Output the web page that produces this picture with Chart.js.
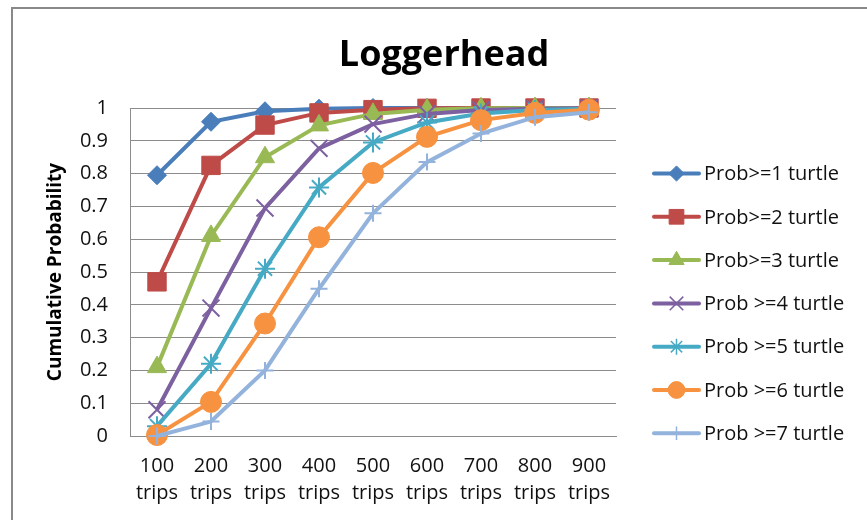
<!DOCTYPE html>
<html>
<head>
<meta charset="utf-8">
<title>Loggerhead</title>
<script src="https://cdn.jsdelivr.net/npm/chart.js@4/dist/chart.umd.min.js"></script>
<style>
  html, body { margin: 0; padding: 0; background: #ffffff; }
  #wrap { width: 867px; height: 520px; position: relative; }
</style>
</head>
<body>
<div id="wrap"><canvas id="chart"></canvas></div>
<script>
// Text
const chartTitle = 'Loggerhead';
const yAxisTitle = 'Cumulative Probability';
const unitLabel = 'trips';

// Categories (number of trips) and y tick labels
const categories = ['100', '200', '300', '400', '500', '600', '700', '800', '900'];
const yTickLabels = ['0', '0.1', '0.2', '0.3', '0.4', '0.5', '0.6', '0.7', '0.8', '0.9', '1'];

// Series names
const seriesNames = [
  'Prob>=1 turtle', 'Prob>=2 turtle', 'Prob>=3 turtle',
  'Prob >=4 turtle', 'Prob >=5 turtle', 'Prob >=6 turtle', 'Prob >=7 turtle'
];

// Cumulative probability per series
const prob1 = [0.795, 0.958, 0.990, 0.998, 1.000, 1.000, 1.000, 1.000, 1.000];
const prob2 = [0.470, 0.825, 0.948, 0.985, 0.995, 0.999, 1.000, 1.000, 1.000];
const prob3 = [0.210, 0.610, 0.850, 0.947, 0.982, 0.995, 0.999, 1.000, 1.000];
const prob4 = [0.080, 0.390, 0.695, 0.877, 0.951, 0.982, 0.994, 0.998, 1.000];
const prob5 = [0.030, 0.220, 0.510, 0.758, 0.895, 0.956, 0.983, 0.994, 0.998];
const prob6 = [0.003, 0.104, 0.343, 0.606, 0.802, 0.912, 0.963, 0.985, 0.995];
const prob7 = [0.000, 0.044, 0.200, 0.449, 0.679, 0.835, 0.922, 0.972, 0.987];

// Styling
const seriesColors = ['#4a7ebb', '#be4b48', '#98b954', '#7d60a0', '#46aac5', '#f69240', '#93b3dc'];
const markerStyles = ['rectRot', 'rect', 'triangle', 'crossRot', 'star', 'circle', 'cross'];
const markerRadii = [9.5, 13, 11, 12, 10, 10.5, 8.5];
const gridColor = '#8c8c8c';
const textColor = '#111111';
const fontFamily = '"Open Sans", "DejaVu Sans", sans-serif';

const seriesValues = [prob1, prob2, prob3, prob4, prob5, prob6, prob7];
const strokeOnly = s => s === 'crossRot' || s === 'star' || s === 'cross';

const datasets = seriesValues.map((values, i) => ({
  label: seriesNames[i],
  data: values,
  borderColor: seriesColors[i],
  backgroundColor: seriesColors[i],
  borderWidth: 4,
  pointStyle: markerStyles[i],
  pointRadius: markerRadii[i],
  pointHoverRadius: markerRadii[i],
  pointBackgroundColor: seriesColors[i],
  pointBorderColor: seriesColors[i],
  pointBorderWidth: strokeOnly(markerStyles[i]) ? 2 : 1,
  tension: 0,
  fill: false,
  clip: false,
  order: seriesValues.length - i
}));

// Background, outer frame, title and line+marker legend
const decorations = {
  id: 'decorations',
  beforeDraw(chart) {
    const ctx = chart.ctx;
    ctx.save();
    ctx.fillStyle = '#ffffff';
    ctx.fillRect(0, 0, chart.width, chart.height);
    ctx.strokeStyle = '#898989';
    ctx.lineWidth = 2;
    ctx.strokeRect(12, 8, chart.width + 20, chart.height + 20);
    ctx.restore();
  },
  afterDraw(chart) {
    const ctx = chart.ctx;
    ctx.save();
    ctx.fillStyle = '#000000';
    ctx.font = 'bold 36px ' + fontFamily;
    ctx.textAlign = 'center';
    ctx.textBaseline = 'alphabetic';
    ctx.fillText(chartTitle, 444, 66);

    const top = 173.5, step = 43.3;
    chart.data.datasets.forEach((ds, i) => {
      const y = top + i * step;
      ctx.strokeStyle = ds.borderColor;
      ctx.lineWidth = 4;
      ctx.lineCap = 'round';
      ctx.beginPath();
      ctx.moveTo(654, y);
      ctx.lineTo(699, y);
      ctx.stroke();
      ctx.lineCap = 'butt';
      ctx.fillStyle = ds.pointBackgroundColor;
      ctx.strokeStyle = ds.pointBorderColor;
      ctx.lineWidth = strokeOnly(ds.pointStyle) ? 1.5 : 1;
      Chart.helpers.drawPoint(ctx, {
        pointStyle: ds.pointStyle,
        rotation: 0,
        radius: ds.pointRadius * 0.8,
        borderWidth: ctx.lineWidth
      }, 676.5, y);
      ctx.fillStyle = textColor;
      ctx.font = '20px ' + fontFamily;
      ctx.textAlign = 'left';
      ctx.textBaseline = 'middle';
      ctx.fillText(ds.label, 704, y + 1);
    });
    ctx.restore();
  }
};

Chart.defaults.font.family = fontFamily;
Chart.defaults.color = textColor;

new Chart(document.getElementById('chart'), {
  type: 'line',
  data: {
    labels: categories.map(c => [c, unitLabel]),
    datasets: datasets
  },
  options: {
    responsive: true,
    maintainAspectRatio: false,
    animation: false,
    layout: { padding: { top: 108, right: 251, bottom: 0, left: 0 } },
    plugins: {
      legend: { display: false },
      title: { display: false },
      tooltip: { enabled: false }
    },
    scales: {
      x: {
        offset: true,
        grid: { display: false, drawTicks: false },
        border: { display: true, color: gridColor, width: 1 },
        ticks: {
          color: textColor,
          font: { size: 20, lineHeight: 1.35 },
          padding: 17,
          maxRotation: 0,
          autoSkip: false
        },
        afterFit(scale) { scale.height = 84; }
      },
      y: {
        min: 0,
        max: 1,
        grid: { color: gridColor, lineWidth: 1, drawTicks: false },
        border: { display: true, color: gridColor, width: 1 },
        ticks: {
          stepSize: 0.1,
          color: textColor,
          font: { size: 20 },
          padding: 22,
          callback: (value, index) => yTickLabels[index]
        },
        title: {
          display: true,
          text: yAxisTitle,
          color: '#000000',
          font: { size: 19, weight: 'bold' },
          padding: { top: 44, bottom: 0 }
        },
        afterFit(scale) { scale.width = 130; }
      }
    }
  },
  plugins: [decorations]
});
</script>
</body>
</html>
